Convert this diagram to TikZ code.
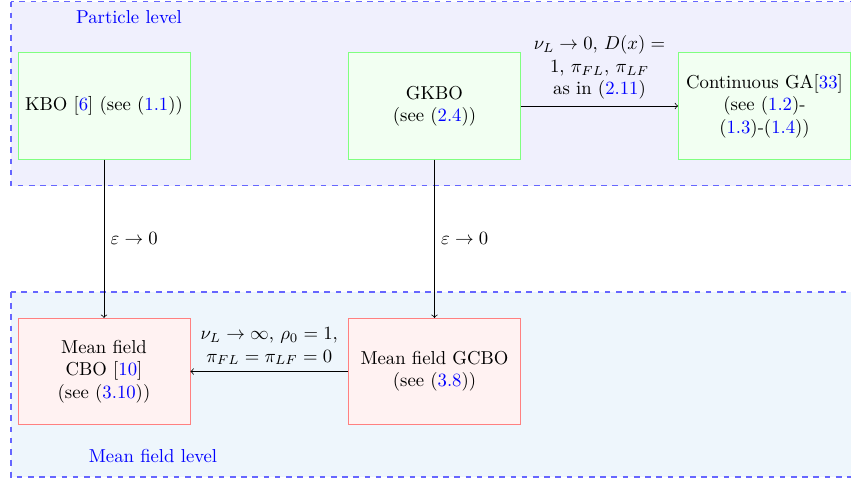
\documentclass[tikz,border=0pt]{standalone}
\definecolor{toparea}{RGB}{240,240,253}
\definecolor{botarea}{RGB}{238,246,252}
\newcommand{\rf}[1]{\textcolor{blue}{#1}}
\begin{document}
\begin{tikzpicture}[x=0.5347pt,y=-0.5347pt,
 box/.style={draw, text width=3cm, minimum height=2cm, align=center, inner sep=3.33pt},
 partbox/.style={box, draw=green!50, fill=green!5},
 mfbox/.style={box, draw=red!50, fill=red!5},
 area/.style={draw=blue!60, dashed, thick},
 arr/.style={->},
 lvl/.style={text=blue}]
\useasboundingbox (0,0) rectangle (851,480);
\clip (0,0) rectangle (851,480);
\draw[area, fill=toparea] (11,1.5) rectangle (900,185.5);
\draw[area, fill=botarea] (11,292) rectangle (900,477);
\node[lvl] (pl) at (129,17) {Particle level};
\node[lvl] (mfl) at (153,456) {Mean field level};
\node[partbox] (kbo) at (104,106) {KBO [\rf{6}] (see (\rf{1.1}))};
\node[partbox] (gkbo) at (434.5,106) {GKBO\\(see (\rf{2.4}))};
\node[partbox] (cga) at (764.5,106) {Continuous GA[\rf{33}]\\(see (\rf{1.2})-\\(\rf{1.3})-(\rf{1.4}))};
\node[mfbox] (cbo) at (104,371.5) {Mean field\\CBO [\rf{10}]\\(see (\rf{3.10}))};
\node[mfbox] (gcbo) at (434.5,371.5) {Mean field GCBO\\(see (\rf{3.8}))};
\draw[arr] (kbo) -- node[right] (l1) {$\varepsilon\to 0$} (cbo);
\draw[arr] (gkbo) -- node[right] (l2) {$\varepsilon\to 0$} (gcbo);
\draw[arr] (gkbo) -- node[above, align=center] (l3) {$\nu_L\to 0$, $D(x)=$\\$1$, $\pi_{FL}$, $\pi_{LF}$\\as in (\rf{2.11})} (cga);
\draw[arr] (gcbo) -- node[above, align=center] (l4) {$\nu_L\to\infty$, $\rho_0=1$,\\$\pi_{FL}=\pi_{LF}=0$} (cbo);
\end{tikzpicture}
\end{document}
